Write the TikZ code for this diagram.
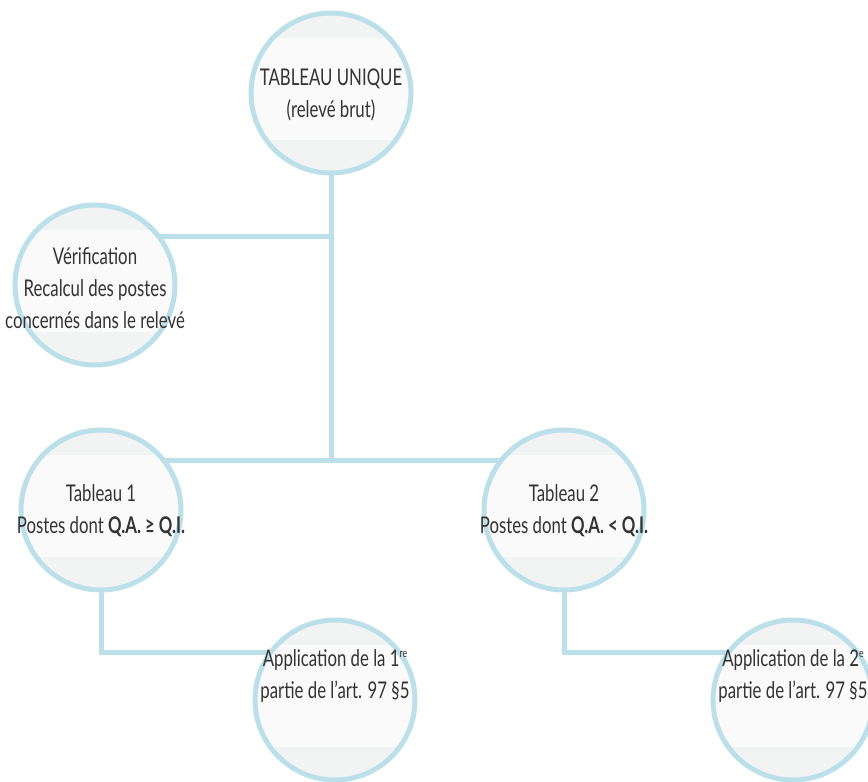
\documentclass[tikz,border=0pt]{standalone}
\usepackage{fontspec}
\setmainfont{Lato}[FakeStretch=0.73]
\usetikzlibrary{backgrounds}
\definecolor{ring}{HTML}{BCE0EA}
\definecolor{fillg}{HTML}{F2F3F3}
\definecolor{bandc}{HTML}{FAFAFA}
\definecolor{txt}{HTML}{333333}
\newcommand{\sups}[1]{\raisebox{0.75ex}{\fontsize{12}{12}\selectfont #1}}
\begin{document}
\begin{tikzpicture}[x=1pt,y=-1pt,
  bubble/.style={circle, draw=ring, line width=5pt, fill=fillg, minimum size=160pt,
    inner sep=0pt,
    path picture={\fill[bandc] ([xshift=-100pt,yshift=-47pt]path picture bounding box.center)
       rectangle ([xshift=100pt,yshift=55pt]path picture bounding box.center);}},
  txtnode/.style={align=center, font=\fontsize{23}{32}\selectfont, text=txt, inner sep=0pt},
  link/.style={draw=ring, line width=5pt}]
\useasboundingbox (0,0) rectangle (868,782);
\node[bubble] (top) at (331,93) {};
\node[bubble] (ver) at (95,285) {};
\node[bubble] (t1) at (101,510) {};
\node[bubble] (t2) at (564,510) {};
\node[bubble] (a1) at (335,700) {};
\node[bubble] (a2) at (793,700) {};
\node[txtnode] (topt) at (331,95) {TABLEAU UNIQUE\\(relevé brut)};
\node[txtnode] (vert) at (95,288) {Vérification\\Recalcul des postes\\concernés dans le relevé};
\node[txtnode] (t1t) at (101,511) {Tableau 1\\Postes dont \textbf{Q.A. ≥ Q.I.}};
\node[txtnode] (t2t) at (564,511) {Tableau 2\\Postes dont \textbf{Q.A. < Q.I.}};
\node[txtnode] (a1t) at (335,676) {Application de la 1\sups{re}\\partie de l’art. 97 §5};
\node[txtnode] (a2t) at (793,676) {Application de la 2\sups{e}\\partie de l’art. 97 §5};
\coordinate (j1) at (331,236);
\coordinate (j2) at (331,460);
\coordinate (k1) at (335,652);
\coordinate (k2) at (793,652);
\begin{scope}[on background layer]
  \draw[link] (top.center) -- (j2);
  \draw[link] (ver.center |- j1) -- (j1);
  \draw[link] (t1.center |- j2) -- (t2.center |- j2);
  \draw[link] (t1.center) -- (t1.center |- k1) -- (a1.center |- k1);
  \draw[link] (t2.center) -- (t2.center |- k2) -- (a2.center |- k2);
\end{scope}
\end{tikzpicture}
\end{document}
